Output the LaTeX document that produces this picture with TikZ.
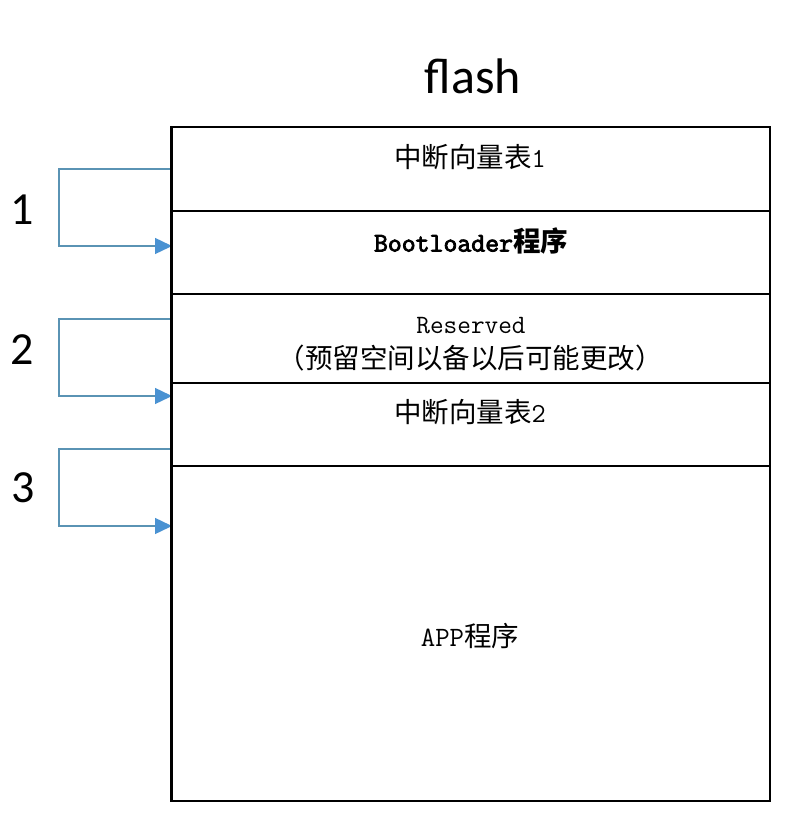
\documentclass[tikz,border=0pt]{standalone}
\usepackage{fontspec}
\setmainfont{Carlito}
\newfontfamily\cjk{Noto Sans CJK SC}
\newfontfamily\mono{Latin Modern Mono}
\newfontfamily\monob[AutoFakeBold=3]{Latin Modern Mono}
\usetikzlibrary{arrows.meta}
\definecolor{brkline}{HTML}{5A93B4}
\definecolor{brktip}{HTML}{4A92D2}
\tikzset{
  seg/.style={draw=black, line width=2.2pt, minimum width=598pt, inner sep=0pt, anchor=north},
  brk/.style={draw=brkline, line width=1.4pt, -{Triangle[length=17pt,width=16pt,color=brktip]}},
  lbl/.style={inner sep=0pt, font=\cjk\fontsize{27.5}{32}\selectfont},
  num/.style={inner sep=0pt, font=\fontsize{46}{50}\selectfont}
}
\begin{document}
\begin{tikzpicture}[x=1pt,y=-1pt]
\useasboundingbox (0,0) rectangle (808,818);
\fill[white] (0,0) rectangle (808,818);
% segments
\node[seg, minimum height=84pt] (s1) at (471,126) {};
\node[seg, minimum height=83pt] (s2) at (471,210) {};
\node[seg, minimum height=89pt] (s3) at (471,293) {};
\node[seg, minimum height=83pt] (s4) at (471,382) {};
\node[seg, minimum height=335pt] (s5) at (471,465) {};
% title
\node[inner sep=0pt, font=\fontsize{50}{56}\selectfont] (title) at (473,76) {flash};
% labels
\node[lbl] (t1) at (470,157) {中断向量表{\mono 1}};
\node[lbl] (t2) at (471,241) {{\monob\bfseries\fontsize{27}{30}\selectfont Bootloader}{\bfseries 程序}};
\node[inner sep=0pt, font=\mono\fontsize{26.5}{30}\selectfont] (t3) at (471,326) {Reserved};
\node[lbl] (t4) at (470,358) {（预留空间以备以后可能更改）};
\node[lbl] (t5) at (470,412) {中断向量表{\mono 2}};
\node[lbl] (t6) at (470,636) {{\mono\fontsize{28}{30}\selectfont APP}程序};
% numbers
\node[num] (n1) at (22,210) {1};
\node[num] (n2) at (22,350) {2};
\node[num] (n3) at (23,488) {3};
% brackets
\coordinate (a1) at (172,169);
\coordinate (e1) at (172,246);
\coordinate (a2) at (172,319);
\coordinate (e2) at (172,396);
\coordinate (a3) at (172,449);
\coordinate (e3) at (172,526);
\draw[brk] (a1) -- (59,169) |- (e1);
\draw[brk] (a2) -- (59,319) |- (e2);
\draw[brk] (a3) -- (59,449) |- (e3);
% redraw box left edge on top
\draw[line width=2.2pt] (s1.north west) -- (s5.south west);
\end{tikzpicture}
\end{document}
